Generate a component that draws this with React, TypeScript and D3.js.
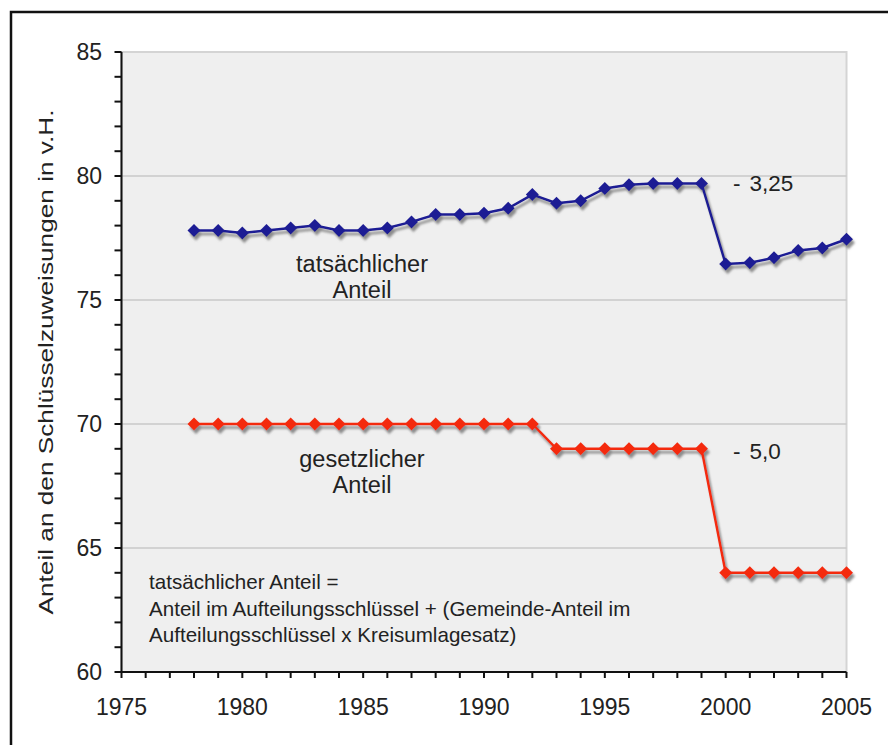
import React from "react";
import * as d3 from "d3";

const years = [1978, 1979, 1980, 1981, 1982, 1983, 1984, 1985, 1986, 1987, 1988, 1989, 1990, 1991, 1992, 1993, 1994, 1995, 1996, 1997, 1998, 1999, 2000, 2001, 2002, 2003, 2004, 2005];
const actualShare = [77.8, 77.8, 77.7, 77.8, 77.9, 78.0, 77.8, 77.8, 77.9, 78.15, 78.45, 78.45, 78.5, 78.7, 79.25, 78.9, 79.0, 79.5, 79.65, 79.7, 79.7, 79.7, 76.45, 76.5, 76.7, 77.0, 77.1, 77.45];
const legalShare = [70, 70, 70, 70, 70, 70, 70, 70, 70, 70, 70, 70, 70, 70, 70, 69, 69, 69, 69, 69, 69, 69, 64, 64, 64, 64, 64, 64];
const yTicks = [60, 65, 70, 75, 80, 85];
const yGrid = [65, 70, 75, 80];
const xTicks = [1975, 1980, 1985, 1990, 1995, 2000, 2005];
const yTitle = "Anteil an den Schlüsselzuweisungen in v.H.";
const actualLabel = ["tatsächlicher", "Anteil"];
const legalLabel = ["gesetzlicher", "Anteil"];
const actualDelta = ["-", "3,25"];
const legalDelta = ["-", "5,0"];
const noteLines = [
  "tatsächlicher Anteil =",
  "Anteil im Aufteilungsschlüssel + (Gemeinde-Anteil im",
  "Aufteilungsschlüssel x Kreisumlagesatz)",
];

const FONT = "'Liberation Sans', Arial, Helvetica, sans-serif";

export default function App() {
  const x = d3.scaleLinear().domain([1975, 2005]).range([121.5, 846.5]);
  const y = d3.scaleLinear().domain([60, 85]).range([672, 52]);
  const minorY = d3.range(60, 86, 1);
  const minorX = d3.range(1975, 2006, 1);
  const line = d3
    .line<number>()
    .x((_, i) => x(years[i]))
    .y((d) => y(d));
  const diamond = (cx: number, cy: number, r = 6.5) =>
    `M${cx},${cy - r}L${cx + r},${cy}L${cx},${cy + r}L${cx - r},${cy}Z`;

  const series = [
    { values: actualShare, color: "#1c1c94" },
    { values: legalShare, color: "#f42a0e" },
  ];

  return (
    <svg
      width={888}
      height={745}
      style={{ position: "absolute", left: 0, top: 0, background: "#fff" }}
      fontFamily={FONT}
    >
      <defs>
        <filter id="shadow" x="-20%" y="-20%" width="140%" height="160%">
          <feDropShadow dx="2" dy="3.5" stdDeviation="1.3" floodColor="#7a7a7a" floodOpacity="0.85" />
        </filter>
      </defs>
      <rect x={0} y={0} width={888} height={745} fill="#fff" />
      <rect x={11} y={12} width={900} height={800} fill="none" stroke="#111" strokeWidth={2.5} />
      {/* plot area */}
      <rect
        x={x(1975)}
        y={y(85)}
        width={x(2005) - x(1975)}
        height={y(60) - y(85)}
        fill="#efefef"
        stroke="#d4d4d4"
        strokeWidth={2}
      />
      {yGrid.map((v) => (
        <line key={v} x1={x(1975)} x2={x(2005)} y1={y(v)} y2={y(v)} stroke="#c8c8c8" strokeWidth={1.5} />
      ))}
      {/* axes */}
      <line x1={x(1975)} x2={x(1975)} y1={y(85)} y2={y(60)} stroke="#111" strokeWidth={2} />
      <line x1={x(1975)} x2={x(2005)} y1={y(60)} y2={y(60)} stroke="#111" strokeWidth={2} />
      {minorY.map((v) => (
        <line key={"yt" + v} x1={x(1975) - 7} x2={x(1975)} y1={y(v)} y2={y(v)} stroke="#111" strokeWidth={2} />
      ))}
      {minorX.map((v) => (
        <line key={"xt" + v} x1={x(v)} x2={x(v)} y1={y(60)} y2={y(60) + 6} stroke="#111" strokeWidth={2} />
      ))}
      {yTicks.map((v) => (
        <text key={"yl" + v} x={102} y={y(v)} dy="0.35em" textAnchor="end" fontSize={23} fill="#222">
          {v}
        </text>
      ))}
      {xTicks.map((v) => (
        <text key={"xl" + v} x={x(v)} y={715} textAnchor="middle" fontSize={23} fill="#222">
          {v}
        </text>
      ))}
      <text
        transform={`translate(53,362) rotate(-90)`}
        textAnchor="middle"
        fontSize={21}
        textLength={505}
        lengthAdjust="spacingAndGlyphs"
        fill="#222"
      >
        {yTitle}
      </text>
      {/* series */}
      {series.map((s, si) => (
        <g key={si} filter="url(#shadow)">
          <path d={line(s.values) || ""} fill="none" stroke={s.color} strokeWidth={2.5} />
          {s.values.map((v, i) => (
            <path key={i} d={diamond(x(years[i]), y(v))} fill={s.color} />
          ))}
        </g>
      ))}
      {/* labels */}
      {actualLabel.map((t, i) => (
        <text key={"al" + i} x={362} y={272 + i * 26} textAnchor="middle" fontSize={23.5} fill="#222">
          {t}
        </text>
      ))}
      {legalLabel.map((t, i) => (
        <text key={"ll" + i} x={362} y={467 + i * 26} textAnchor="middle" fontSize={23.5} fill="#222">
          {t}
        </text>
      ))}
      <text x={733} y={191} fontSize={22.5} fill="#222">
        {actualDelta[0]}
        <tspan dx={9}>{actualDelta[1]}</tspan>
      </text>
      <text x={733} y={459} fontSize={22.5} fill="#222">
        {legalDelta[0]}
        <tspan dx={9}>{legalDelta[1]}</tspan>
      </text>
      {noteLines.map((t, i) => (
        <text key={"n" + i} x={149} y={589 + i * 26.5} fontSize={20.6} fill="#222">
          {t}
        </text>
      ))}
    </svg>
  );
}
